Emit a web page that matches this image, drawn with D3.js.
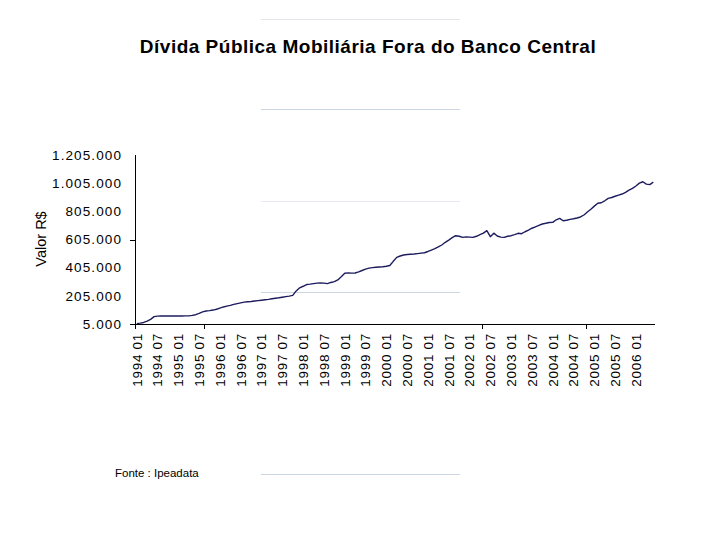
<!DOCTYPE html>
<html>
<head>
<meta charset="utf-8">
<script src="https://cdn.jsdelivr.net/npm/d3@7"></script>
<style>
  html, body { margin: 0; padding: 0; background: #fff; }
  svg { display: block; }
  text { font-family: "Liberation Sans", Arial, sans-serif; fill: #000; }
</style>
</head>
<body>
<svg id="chart" width="720" height="540"></svg>
<script>
// ---- data ----
const titleText = "Dívida Pública Mobiliária Fora do Banco Central";
const yAxisTitle = "Valor R$";
const sourceText = "Fonte : Ipeadata";

const startYear = 1994;
const nMonths = 150; // 1994 01 .. 2006 06
const months = d3.range(nMonths).map(i => {
  const yr = startYear + Math.floor(i / 12);
  const m = (i % 12) + 1;
  return yr + " " + (m < 10 ? "0" + m : "" + m);
});

// monthly values (R$ millions)
const values = [
  8000, 11000, 16000, 26000, 38000, 57000, 61000, 62000, 62000, 62000,
  62000, 62000, 62000, 62000, 63000, 63000, 66000, 71000, 80000, 91000,
  97000, 100000, 104000, 110000, 118000, 126000, 132000, 137000, 144000, 150000,
  155000, 160000, 163000, 165000, 168000, 171000, 174000, 177000, 180000, 184000,
  188000, 191000, 195000, 199000, 203000, 208000, 240000, 262000, 273000, 285000,
  288000, 292000, 295000, 296000, 295000, 292000, 300000, 306000, 318000, 340000,
  365000, 368000, 366000, 367000, 375000, 385000, 395000, 402000, 405000, 408000,
  410000, 412000, 415000, 420000, 450000, 478000, 488000, 495000, 498000, 500000,
  502000, 505000, 508000, 511000, 520000, 530000, 540000, 552000, 566000, 585000,
  601000, 618000, 632000, 628000, 620000, 624000, 622000, 620000, 628000, 640000,
  650000, 668000, 625000, 650000, 630000, 622000, 620000, 628000, 632000, 640000,
  649000, 646000, 660000, 672000, 685000, 695000, 705000, 715000, 720000, 726000,
  727000, 745000, 755000, 738000, 742000, 748000, 752000, 758000, 765000, 779000,
  800000, 820000, 842000, 862000, 866000, 880000, 897000, 903000, 912000, 920000,
  928000, 940000, 955000, 968000, 985000, 1005000, 1015000, 998000, 995000, 1012000
];

const xTickLabels = [
  "1994 01","1994 07","1995 01","1995 07","1996 01","1996 07","1997 01","1997 07",
  "1998 01","1998 07","1999 01","1999 07","2000 01","2000 07","2001 01","2001 07",
  "2002 01","2002 07","2003 01","2003 07","2004 01","2004 07","2005 01","2005 07","2006 01"
];
const xTickMarkCats = ["1994 01", "1995 09", "2002 05", "2004 11"]; // tick marks at left edge
const yTickValues = [5000, 205000, 405000, 605000, 805000, 1005000, 1205000];
const yTickMarkValues = [5000, 605000];
const yDomain = [5000, 1205000];

// ---- layout ----
const svg = d3.select("#chart");
const plotL = 135, plotR = 655, plotT = 155, plotB = 324;

// slide decoration lines (faint)
const deco = [
  {y: 19, c: "#e3e7ec"}, {y: 109, c: "#ccd5e2"}, {y: 201, c: "#e6eaf0"},
  {y: 292, c: "#ccd5e2"}, {y: 474, c: "#ccd5e2"}
];
svg.append("g").selectAll("line").data(deco).join("line")
  .attr("x1", 261).attr("x2", 460)
  .attr("y1", d => d.y + 0.5).attr("y2", d => d.y + 0.5)
  .attr("stroke", d => d.c).attr("stroke-width", 1.2);

const fmt = d3.formatLocale({decimal: ",", thousands: ".", grouping: [3], currency: ["R$", ""]}).format(",d");

const x = d3.scaleBand().domain(months).range([plotL, plotR]).padding(0);
const y = d3.scaleLinear().domain(yDomain).range([plotB, plotT]);

// title
svg.append("text")
  .attr("x", 368).attr("y", 53)
  .attr("text-anchor", "middle")
  .style("font-size", "19px").style("font-weight", "bold")
  .style("letter-spacing", "0.5px")
  .text(titleText);

// y axis
const yAxis = svg.append("g").attr("transform", `translate(${plotL},0)`)
  .call(d3.axisLeft(y).tickValues(yTickValues).tickFormat(fmt).tickSize(0).tickPadding(13));
yAxis.select(".domain").remove();
yAxis.selectAll("text")
  .style("font-size", "13.5px").style("letter-spacing", "1.1px")
  .style("font-family", "'Liberation Sans', Arial, sans-serif");
svg.append("g").selectAll("line").data(yTickMarkValues).join("line")
  .attr("x1", plotL - 5).attr("x2", plotL)
  .attr("y1", d => Math.round(y(d)) + 0.5).attr("y2", d => Math.round(y(d)) + 0.5)
  .attr("stroke", "#000");
svg.append("line")
  .attr("x1", plotL + 0.5).attr("x2", plotL + 0.5)
  .attr("y1", plotT).attr("y2", plotB + 4)
  .attr("stroke", "#000");

// x axis
const xAxis = svg.append("g").attr("transform", `translate(0,${plotB})`)
  .call(d3.axisBottom(x).tickValues(xTickLabels).tickSize(0).tickPadding(0));
xAxis.select(".domain").remove();
xAxis.selectAll("text")
  .attr("transform", "rotate(-90)")
  .attr("text-anchor", "end")
  .attr("x", -9).attr("y", 0).attr("dy", "0.36em")
  .style("font-size", "13.5px").style("letter-spacing", "0.7px")
  .style("font-family", "'Liberation Sans', Arial, sans-serif");
svg.append("line")
  .attr("x1", plotL).attr("x2", plotR)
  .attr("y1", plotB + 0.5).attr("y2", plotB + 0.5)
  .attr("stroke", "#000");
svg.append("g").selectAll("line").data(xTickMarkCats).join("line")
  .attr("x1", d => Math.round(x(d)) + 0.5).attr("x2", d => Math.round(x(d)) + 0.5)
  .attr("y1", plotB).attr("y2", plotB + 5)
  .attr("stroke", "#000");

// y axis title
svg.append("text")
  .attr("transform", "translate(46,239) rotate(-90)")
  .attr("text-anchor", "middle")
  .style("font-size", "14.5px")
  .text(yAxisTitle);

// series line
const line = d3.line()
  .x((d, i) => x(months[i]) + x.bandwidth() / 2)
  .y(d => y(d));
svg.append("path")
  .datum(values)
  .attr("d", line)
  .attr("fill", "none")
  .attr("stroke", "#1c1c5e")
  .attr("stroke-width", 1.4)
  .attr("stroke-linejoin", "round");

// source
svg.append("text")
  .attr("x", 115).attr("y", 477)
  .style("font-size", "11.5px")
  .text(sourceText);
</script>
</body>
</html>
